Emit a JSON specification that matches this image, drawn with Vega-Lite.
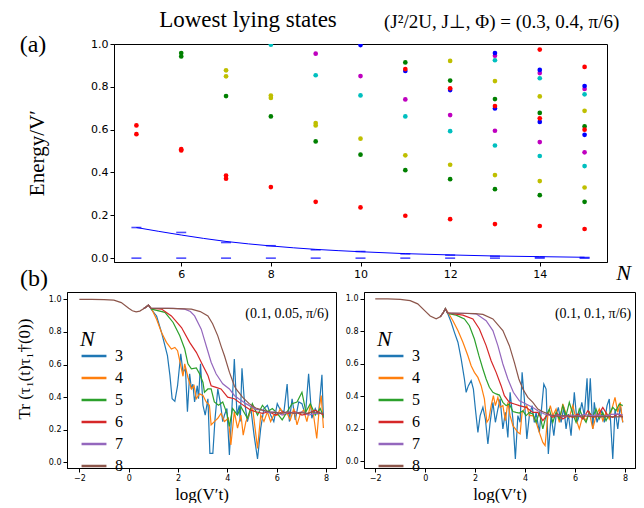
{
"$schema": "https://vega.github.io/schema/vega-lite/v6.json",
"padding": {"left": 15, "top": 8, "right": 0, "bottom": 0},
"config": {
  "view": {"stroke": "black", "strokeWidth": 1},
  "axis": {"grid": false, "domainColor": "black", "tickColor": "black", "labelColor": "black", "titleColor": "black", "labelFont": "DejaVu Sans", "titleFont": "Liberation Serif", "titleFontWeight": "normal", "tickSize": 4, "labelPadding": 2, "labelOverlap": false},
  "text": {"font": "Liberation Serif", "color": "black"}
},
"datasets": {
  "lvl": [
    {"N":5,"E":0.62,"c":"r"},{"N":5,"E":0.579,"c":"r"},
    {"N":6,"E":0.958,"c":"g"},{"N":6,"E":0.942,"c":"g"},{"N":6,"E":0.509,"c":"r"},{"N":6,"E":0.503,"c":"r"},
    {"N":7,"E":0.877,"c":"y"},{"N":7,"E":0.849,"c":"y"},{"N":7,"E":0.757,"c":"g"},{"N":7,"E":0.386,"c":"r"},{"N":7,"E":0.371,"c":"r"},
    {"N":8,"E":0.997,"c":"c"},{"N":8,"E":0.759,"c":"y"},{"N":8,"E":0.748,"c":"y"},{"N":8,"E":0.662,"c":"g"},{"N":8,"E":0.332,"c":"r"},
    {"N":9,"E":0.955,"c":"m"},{"N":9,"E":0.854,"c":"c"},{"N":9,"E":0.631,"c":"y"},{"N":9,"E":0.62,"c":"y"},{"N":9,"E":0.545,"c":"g"},{"N":9,"E":0.263,"c":"r"},
    {"N":10,"E":0.995,"c":"b"},{"N":10,"E":0.85,"c":"m"},{"N":10,"E":0.76,"c":"c"},{"N":10,"E":0.558,"c":"y"},{"N":10,"E":0.483,"c":"g"},{"N":10,"E":0.237,"c":"r"},
    {"N":11,"E":0.914,"c":"g"},{"N":11,"E":0.874,"c":"b"},{"N":11,"E":0.883,"c":"r"},{"N":11,"E":0.741,"c":"m"},{"N":11,"E":0.662,"c":"c"},{"N":11,"E":0.48,"c":"y"},{"N":11,"E":0.411,"c":"g"},{"N":11,"E":0.198,"c":"r"},
    {"N":12,"E":0.921,"c":"y"},{"N":12,"E":0.829,"c":"g"},{"N":12,"E":0.785,"c":"b"},{"N":12,"E":0.793,"c":"r"},{"N":12,"E":0.668,"c":"m"},{"N":12,"E":0.593,"c":"c"},{"N":12,"E":0.436,"c":"y"},{"N":12,"E":0.369,"c":"g"},{"N":12,"E":0.182,"c":"r"},
    {"N":13,"E":0.924,"c":"c"},{"N":13,"E":0.945,"c":"m"},{"N":13,"E":0.958,"c":"b"},{"N":13,"E":0.827,"c":"y"},{"N":13,"E":0.743,"c":"g"},{"N":13,"E":0.699,"c":"b"},{"N":13,"E":0.71,"c":"r"},{"N":13,"E":0.595,"c":"m"},{"N":13,"E":0.526,"c":"c"},{"N":13,"E":0.388,"c":"y"},{"N":13,"E":0.322,"c":"g"},{"N":13,"E":0.159,"c":"r"},
    {"N":14,"E":0.974,"c":"r"},{"N":14,"E":0.84,"c":"c"},{"N":14,"E":0.864,"c":"m"},{"N":14,"E":0.879,"c":"b"},{"N":14,"E":0.755,"c":"y"},{"N":14,"E":0.678,"c":"g"},{"N":14,"E":0.636,"c":"b"},{"N":14,"E":0.653,"c":"r"},{"N":14,"E":0.542,"c":"m"},{"N":14,"E":0.477,"c":"c"},{"N":14,"E":0.36,"c":"y"},{"N":14,"E":0.294,"c":"g"},{"N":14,"E":0.15,"c":"r"},
    {"N":15,"E":0.893,"c":"r"},{"N":15,"E":0.765,"c":"c"},{"N":15,"E":0.79,"c":"m"},{"N":15,"E":0.804,"c":"b"},{"N":15,"E":0.688,"c":"y"},{"N":15,"E":0.615,"c":"g"},{"N":15,"E":0.576,"c":"b"},{"N":15,"E":0.6,"c":"r"},{"N":15,"E":0.494,"c":"m"},{"N":15,"E":0.43,"c":"c"},{"N":15,"E":0.33,"c":"y"},{"N":15,"E":0.263,"c":"g"},{"N":15,"E":0.136,"c":"r"}
  ],
  "gs": [
    {"N":5,"E":0.143},{"N":5,"E":0},{"N":6,"E":0.12},{"N":6,"E":0},{"N":7,"E":0.073},{"N":7,"E":0},{"N":8,"E":0.058},{"N":8,"E":0},{"N":9,"E":0.039},{"N":9,"E":0},{"N":10,"E":0.031},{"N":10,"E":0},{"N":11,"E":0.02},{"N":11,"E":0},{"N":12,"E":0.014},{"N":12,"E":0},{"N":13,"E":0.009},{"N":13,"E":0},{"N":14,"E":0.005},{"N":14,"E":0},{"N":15,"E":0.003},{"N":15,"E":0}
  ],
  "fit": [
    {"N":5,"E":0.143},{"N":6,"E":0.108},{"N":7,"E":0.078},{"N":8,"E":0.057},{"N":9,"E":0.041},{"N":10,"E":0.030},{"N":11,"E":0.021},{"N":12,"E":0.015},{"N":13,"E":0.010},{"N":14,"E":0.007},{"N":15,"E":0.004}
  ],
  "ts": [
    {"p":"L","N":"3","x":[0.6,0.72,0.8,0.93,1.13,1.33,1.47,1.57,1.67,1.76,1.87,1.98,2.11,2.2,2.3,2.38,2.47,2.54,2.6,2.67,2.78,2.83,2.91,3.01,3.1,3.21,3.29,3.41,3.5,3.61,3.72,3.81,3.88,3.98,4.08,4.17,4.28,4.39,4.48,4.52,4.59,4.68,4.81,4.95,5.08,5.22,5.35,5.48,5.62,5.75,5.88,6.02,6.15,6.29,6.42,6.51,6.62,6.75,6.89,7.02,7.16,7.29,7.42,7.56,7.69,7.83,7.89],
     "y":[0.942,0.955,0.965,0.935,0.898,0.797,0.715,0.654,0.533,0.39,0.374,0.47,0.665,0.553,0.573,0.31,0.543,0.45,0.48,0.37,0.47,0.39,0.604,0.35,0.29,0.39,0.055,0.055,0.27,0.45,0.36,0.25,0.29,0.33,0.045,0.29,0.634,0.29,0.35,0.25,0.577,0.39,0.25,0.33,0.167,0.02,0.21,0.33,0.35,0.29,0.25,0.36,0.32,0.31,0.48,0.25,0.39,0.26,0.37,0.36,0.29,0.543,0.27,0.33,0.29,0.537,0.27]},
    {"p":"L","N":"4","x":[0.6,0.72,0.8,0.93,1.13,1.33,1.53,1.73,1.87,1.98,2.11,2.2,2.27,2.4,2.54,2.65,2.74,2.87,3.01,3.14,3.27,3.34,3.47,3.61,3.74,3.88,4.04,4.14,4.28,4.41,4.55,4.64,4.75,4.88,5.01,5.12,5.22,5.35,5.48,5.62,5.75,5.88,6.02,6.15,6.29,6.42,6.55,6.69,6.82,6.96,7.09,7.22,7.36,7.49,7.62,7.72,7.8,7.89],
     "y":[0.942,0.955,0.965,0.94,0.878,0.797,0.736,0.695,0.705,0.685,0.593,0.528,0.604,0.522,0.45,0.47,0.39,0.42,0.41,0.37,0.35,0.23,0.25,0.27,0.3,0.25,0.27,0.106,0.31,0.21,0.29,0.167,0.25,0.29,0.35,0.21,0.085,0.29,0.25,0.31,0.25,0.29,0.29,0.33,0.29,0.3,0.26,0.33,0.23,0.3,0.32,0.25,0.35,0.29,0.146,0.33,0.41,0.21]},
    {"p":"L","N":"5","x":[0.6,0.72,0.8,0.93,1.47,1.8,2.07,2.27,2.4,2.54,2.74,2.87,3.01,3.07,3.21,3.34,3.47,3.64,3.81,3.98,4.08,4.21,4.41,4.55,4.81,5.01,5.22,5.42,5.62,5.82,6.02,6.22,6.42,6.62,6.82,7.02,7.18,7.36,7.56,7.76,7.89],
     "y":[0.942,0.955,0.965,0.94,0.92,0.858,0.776,0.695,0.604,0.573,0.579,0.543,0.49,0.43,0.45,0.45,0.37,0.35,0.37,0.3,0.22,0.33,0.29,0.34,0.27,0.36,0.29,0.35,0.31,0.33,0.3,0.26,0.31,0.36,0.37,0.43,0.31,0.36,0.29,0.33,0.28]},
    {"p":"L","N":"6","x":[0.6,0.72,0.8,0.9,1.33,1.73,2.14,2.47,2.74,3.01,3.21,3.34,3.54,3.74,4.01,4.28,4.55,4.75,4.95,5.15,5.42,5.68,5.95,6.22,6.49,6.75,7.02,7.29,7.56,7.89],
     "y":[0.942,0.955,0.965,0.945,0.94,0.898,0.827,0.736,0.675,0.593,0.533,0.47,0.46,0.45,0.4,0.39,0.36,0.34,0.32,0.31,0.3,0.31,0.29,0.31,0.3,0.31,0.29,0.3,0.32,0.29]},
    {"p":"L","N":"7","x":[0.6,0.72,0.8,0.9,1.3,1.8,2.27,2.5,2.67,2.94,3.14,3.34,3.54,3.81,4.08,4.28,4.55,4.75,5.15,5.42,5.68,5.95,6.22,6.49,6.75,7.02,7.29,7.56,7.89],
     "y":[0.942,0.955,0.965,0.945,0.945,0.944,0.94,0.925,0.898,0.817,0.715,0.614,0.543,0.482,0.45,0.41,0.38,0.36,0.325,0.32,0.305,0.31,0.29,0.31,0.3,0.31,0.29,0.3,0.3]},
    {"p":"L","N":"8","x":[-2,-1.5,-1,-0.6,-0.3,0,0.15,0.3,0.45,0.6,0.72,0.8,0.9,1.2,1.6,2,2.54,2.9,3.21,3.4,3.61,3.75,3.88,4.08,4.28,4.35,4.61,4.88,5.15,5.42,5.68,5.95,6.2,6.42,6.69,6.96,7.22,7.49,7.76,7.89],
     "y":[1,1,0.998,0.995,0.98,0.945,0.93,0.923,0.928,0.942,0.955,0.965,0.945,0.945,0.944,0.943,0.94,0.925,0.898,0.85,0.776,0.71,0.654,0.553,0.47,0.45,0.4,0.36,0.333,0.32,0.31,0.305,0.3,0.31,0.3,0.305,0.3,0.31,0.3,0.3]},
    {"p":"R","N":"3","x":[0.6,0.72,0.81,0.91,1.04,1.17,1.31,1.44,1.57,1.64,1.73,1.84,1.93,2.01,2.11,2.2,2.31,2.41,2.51,2.6,2.71,2.81,2.91,3,3.11,3.21,3.31,3.4,3.51,3.61,3.71,3.8,3.88,3.97,4.07,4.17,4.28,4.37,4.44,4.57,4.75,4.84,4.93,5.04,5.15,5.24,5.33,5.44,5.55,5.64,5.73,5.84,5.97,6.08,6.17,6.27,6.37,6.48,6.53,6.61,6.71,6.77,6.88,6.97,7.07,7.17,7.28,7.37,7.51,7.6,7.71,7.81,7.91],
     "y":[0.89,0.915,0.94,0.907,0.856,0.794,0.733,0.63,0.506,0.424,0.465,0.496,0.444,0.321,0.177,0.28,0.331,0.259,0.105,0.239,0.362,0.239,0.321,0.383,0.198,0.3,0.146,0.424,0.259,0.012,0.28,0.239,0.547,0.383,0.136,0.28,0.342,0.239,0.3,0.177,0.475,0.444,0.043,0.28,0.156,0.28,0.331,0.239,0.331,0.198,0.29,0.156,0.424,0.239,0.28,0.362,0.28,0.51,0.3,0.51,0.198,0.362,0.239,0.28,0.31,0.239,0.342,0.383,0.012,0.321,0.198,0.342,0.239]},
    {"p":"R","N":"4","x":[0.6,0.72,0.81,0.91,1.11,1.31,1.51,1.71,1.84,1.97,2.11,2.24,2.37,2.47,2.55,2.64,2.73,2.81,2.91,3,3.11,3.21,3.31,3.4,3.51,3.61,3.71,3.8,3.88,3.97,4.07,4.17,4.31,4.44,4.57,4.71,4.8,4.91,5.01,5.11,5.24,5.37,5.51,5.64,5.77,5.91,6.04,6.17,6.31,6.44,6.57,6.71,6.84,6.97,7.11,7.24,7.37,7.51,7.6,7.71,7.81,7.91],
     "y":[0.89,0.915,0.94,0.918,0.866,0.805,0.733,0.65,0.588,0.547,0.516,0.465,0.383,0.239,0.259,0.342,0.403,0.342,0.393,0.331,0.342,0.249,0.362,0.28,0.218,0.198,0.177,0.167,0.3,0.321,0.342,0.28,0.28,0.239,0.177,0.115,0.095,0.28,0.342,0.28,0.321,0.239,0.352,0.29,0.27,0.342,0.259,0.198,0.28,0.249,0.3,0.198,0.28,0.321,0.249,0.3,0.259,0.342,0.393,0.3,0.362,0.239]},
    {"p":"R","N":"5","x":[0.6,0.72,0.81,0.9,1.24,1.57,1.77,1.97,2.15,2.31,2.44,2.57,2.71,2.84,2.97,3.11,3.24,3.37,3.51,3.64,3.77,3.91,4.04,4.17,4.31,4.44,4.57,4.71,4.84,4.97,5.11,5.24,5.37,5.51,5.64,5.77,5.91,6.04,6.17,6.31,6.44,6.57,6.71,6.84,6.97,7.11,7.24,7.37,7.51,7.64,7.77,7.91],
     "y":[0.89,0.915,0.94,0.91,0.9,0.877,0.835,0.753,0.65,0.568,0.506,0.455,0.424,0.414,0.407,0.362,0.342,0.352,0.305,0.3,0.296,0.31,0.28,0.3,0.29,0.239,0.3,0.198,0.28,0.32,0.239,0.3,0.259,0.342,0.28,0.362,0.29,0.239,0.321,0.27,0.239,0.3,0.27,0.321,0.259,0.3,0.249,0.29,0.331,0.31,0.352,0.342]},
    {"p":"R","N":"6","x":[0.6,0.72,0.81,0.9,1.51,1.91,2.17,2.44,2.64,2.84,3.04,3.17,3.37,3.57,3.77,4.04,4.31,4.51,4.71,4.91,5.11,5.31,5.51,5.71,5.91,6.11,6.31,6.51,6.71,6.91,7.11,7.31,7.51,7.71,7.91],
     "y":[0.89,0.915,0.94,0.913,0.9,0.877,0.815,0.712,0.619,0.547,0.465,0.403,0.362,0.352,0.342,0.331,0.3,0.3,0.249,0.29,0.27,0.29,0.259,0.28,0.27,0.29,0.259,0.31,0.27,0.28,0.331,0.28,0.27,0.29,0.27]},
    {"p":"R","N":"7","x":[0.6,0.72,0.81,0.9,1.5,2.04,2.44,2.71,2.91,3.11,3.31,3.53,3.77,4.04,4.31,4.51,4.77,5.04,5.31,5.57,5.84,6.11,6.37,6.64,6.91,7.17,7.44,7.71,7.91],
     "y":[0.89,0.915,0.94,0.913,0.912,0.908,0.866,0.805,0.712,0.599,0.506,0.424,0.372,0.352,0.33,0.31,0.29,0.28,0.284,0.274,0.284,0.276,0.288,0.28,0.284,0.276,0.288,0.29,0.284]},
    {"p":"R","N":"8","x":[-2,-1.5,-1,-0.6,-0.3,0,0.2,0.44,0.6,0.72,0.81,0.9,1.1,1.5,2,2.31,2.71,3.11,3.37,3.57,3.75,3.91,4.11,4.31,4.51,4.77,5.04,5.31,5.57,5.97,6.37,6.77,7.17,7.57,7.91],
     "y":[1,1,0.998,0.99,0.97,0.925,0.895,0.877,0.89,0.915,0.94,0.913,0.913,0.912,0.91,0.905,0.877,0.805,0.712,0.609,0.506,0.444,0.393,0.362,0.321,0.3,0.284,0.276,0.28,0.274,0.278,0.272,0.276,0.272,0.274]}
  ]
},
"resolve": {"scale": {"color": "independent"}},
"spacing": 0,
"vconcat": [
  {
    "spacing": 8,
    "hconcat": [
      {
        "width": 15, "height": 218, "view": {"stroke": null},
        "layer": [
          {"data": {"values": [{}]},
           "mark": {"type": "text", "fontSize": 24, "align": "center", "baseline": "middle"},
           "encoding": {"x": {"datum": -2.27, "type": "quantitative", "scale": {"domain": [0, 1], "nice": false, "zero": false}, "axis": null},
                        "y": {"datum": 0.995, "type": "quantitative", "scale": {"domain": [-0.018, 1.0], "nice": false, "zero": false}, "axis": null},
                        "text": {"value": "(a)"}}},
          {"data": {"values": [{}]},
           "mark": {"type": "text", "fontSize": 24, "align": "center", "baseline": "middle"},
           "encoding": {"x": {"datum": -2.2, "type": "quantitative"}, "y": {"datum": -0.097, "type": "quantitative"}, "text": {"value": "(b)"}}},
          {"data": {"values": [{}]},
           "mark": {"type": "text", "fontSize": 21, "align": "center", "baseline": "middle", "angle": 270},
           "encoding": {"x": {"datum": -1.93, "type": "quantitative"}, "y": {"datum": 0.49, "type": "quantitative"}, "text": {"value": "Energy/V′"}}}
        ]
      },
      {
        "width": 493, "height": 218,
        "layer": [
          {"data": {"name": "lvl"},
           "mark": {"type": "point", "filled": true, "size": 22, "opacity": 1, "clip": true},
           "encoding": {
             "x": {"field": "N", "type": "quantitative", "scale": {"domain": [4.5, 15.5], "nice": false, "zero": false},
                   "axis": {"values": [6, 8, 10, 12, 14], "format": "d", "labelFontSize": 11, "title": "N", "titleFont": "Liberation Serif", "titleFontStyle": "italic", "titleFontSize": 22, "titleAngle": 0, "titleX": 509, "titleY": 10, "titleBaseline": "middle", "titleAlign": "center"}},
             "y": {"field": "E", "type": "quantitative", "scale": {"domain": [-0.018, 1.0], "nice": false, "zero": false},
                   "axis": {"values": [0, 0.2, 0.4, 0.6, 0.8, 1.0], "format": ".1f", "labelFontSize": 11, "labelOverlap": false, "title": null}},
             "color": {"field": "c", "type": "nominal", "scale": {"domain": ["r", "g", "y", "c", "m", "b"], "range": ["#ff0000", "#008000", "#bfbf00", "#00bfbf", "#bf00bf", "#0000ff"]}, "legend": null}
           }},
          {"data": {"name": "gs"},
           "mark": {"type": "tick", "orient": "horizontal", "size": 10, "thickness": 1.6, "color": "#0000ff"},
           "encoding": {"x": {"field": "N", "type": "quantitative"}, "y": {"field": "E", "type": "quantitative"}}},
          {"data": {"name": "fit"},
           "mark": {"type": "line", "color": "#0000ff", "strokeWidth": 1, "interpolate": "monotone"},
           "encoding": {"x": {"field": "N", "type": "quantitative"}, "y": {"field": "E", "type": "quantitative"}}},
          {"data": {"values": [{}]},
           "mark": {"type": "text", "fontSize": 23, "align": "center", "baseline": "middle"},
           "encoding": {"x": {"datum": 7.49}, "y": {"datum": 1.11}, "text": {"value": "Lowest lying states"}}},
          {"data": {"values": [{}]},
           "mark": {"type": "text", "fontSize": 19, "align": "center", "baseline": "middle"},
           "encoding": {"x": {"datum": 13.15}, "y": {"datum": 1.105}, "text": {"value": "(J²/2U, J⊥, Φ) = (0.3, 0.4, π/6)"}}}
        ]
      }
    ]
  },
  {
    "spacing": 7,
    "resolve": {"legend": {"color": "independent"}},
    "hconcat": [
      {
        "width": 269, "height": 176,
        "layer": [
          {"data": {"name": "ts"},
           "transform": [{"filter": "datum.p == 'L'"}, {"flatten": ["x", "y"]}],
           "mark": {"type": "line", "strokeWidth": 1.2},
           "encoding": {
             "x": {"field": "x", "type": "quantitative", "scale": {"domain": [-2.5, 8.4], "nice": false, "zero": false},
                   "axis": {"values": [-2, 0, 2, 4, 6, 8], "format": "d", "labelFontSize": 8, "title": "log(V′t)", "titleFontSize": 17, "titlePadding": 4}},
             "y": {"field": "y", "type": "quantitative", "scale": {"domain": [-0.035, 1.045], "nice": false, "zero": false},
                   "axis": {"tickCount": 6, "format": ".1f", "labelFontSize": 8, "labelOverlap": false, "title": null}},
             "color": {"field": "N", "type": "nominal", "scale": {"domain": ["3", "4", "5", "6", "7", "8"], "range": ["#1f77b4", "#ff7f0e", "#2ca02c", "#d62728", "#9467bd", "#8c564b"]},
                       "legend": {"orient": "none", "legendX": 13, "legendY": 37, "title": "N", "titleFont": "Liberation Serif", "titleFontSize": 22, "titleFontStyle": "italic", "titleFontWeight": "normal", "labelFont": "Liberation Serif", "labelFontSize": 16, "symbolType": "stroke", "symbolStrokeWidth": 2.5, "symbolSize": 620, "rowPadding": -5.3, "labelOffset": 7, "titlePadding": -9}}
           }},
          {"data": {"values": [{}]},
           "mark": {"type": "text", "fontSize": 14, "align": "right", "baseline": "middle"},
           "encoding": {"x": {"datum": 8.1}, "y": {"datum": 0.91}, "text": {"value": "(0.1, 0.05, π/6)"}}},
          {"data": {"values": [{}]},
           "mark": {"type": "text", "fontSize": 17, "align": "center", "baseline": "middle", "angle": 270},
           "encoding": {"x": {"datum": -4.2}, "y": {"datum": 0.572}, "text": {"value": "Tr (τ₁(t)τ₁†(0))"}}}
        ]
      },
      {
        "width": 271, "height": 176,
        "layer": [
          {"data": {"name": "ts"},
           "transform": [{"filter": "datum.p == 'R'"}, {"flatten": ["x", "y"]}],
           "mark": {"type": "line", "strokeWidth": 1.2},
           "encoding": {
             "x": {"field": "x", "type": "quantitative", "scale": {"domain": [-2.45, 8.4], "nice": false, "zero": false},
                   "axis": {"values": [-2, 0, 2, 4, 6, 8], "format": "d", "labelFontSize": 8, "title": "log(V′t)", "titleFontSize": 17, "titlePadding": 4}},
             "y": {"field": "y", "type": "quantitative", "scale": {"domain": [-0.043, 1.043], "nice": false, "zero": false},
                   "axis": {"tickCount": 6, "format": ".1f", "labelFontSize": 8, "labelOverlap": false, "title": null}},
             "color": {"field": "N", "type": "nominal",
                       "legend": {"orient": "none", "legendX": 13, "legendY": 37, "title": "N", "titleFont": "Liberation Serif", "titleFontSize": 22, "titleFontStyle": "italic", "titleFontWeight": "normal", "labelFont": "Liberation Serif", "labelFontSize": 16, "symbolType": "stroke", "symbolStrokeWidth": 2.5, "symbolSize": 620, "rowPadding": -5.3, "labelOffset": 7, "titlePadding": -9}}
           }},
          {"data": {"values": [{}]},
           "mark": {"type": "text", "fontSize": 14, "align": "right", "baseline": "middle"},
           "encoding": {"x": {"datum": 8.25}, "y": {"datum": 0.91}, "text": {"value": "(0.1, 0.1, π/6)"}}}
        ]
      }
    ]
  }
]
}
